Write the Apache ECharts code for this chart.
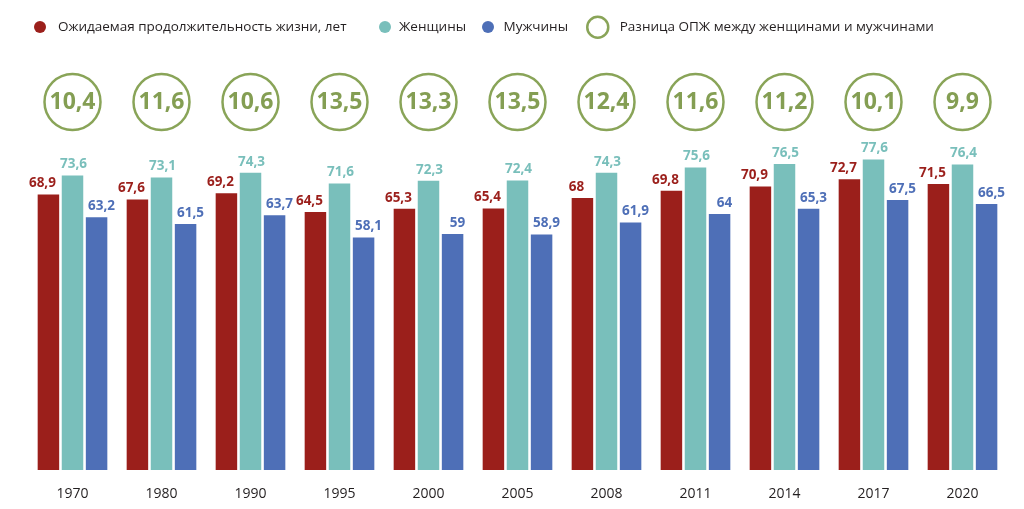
<!DOCTYPE html>
<html>
<head>
<meta charset="utf-8">
<script src="https://cdn.jsdelivr.net/npm/echarts@6/dist/echarts.min.js"></script>
<style>
  html, body { margin: 0; padding: 0; background: #fff; }
  #chart { width: 1024px; height: 509px; }
</style>
</head>
<body>
<div id="chart"></div>
<script>
// данные
const years = ['1970', '1980', '1990', '1995', '2000', '2005', '2008', '2011', '2014', '2017', '2020'];
const total = [68.9, 67.6, 69.2, 64.5, 65.3, 65.4, 68, 69.8, 70.9, 72.7, 71.5];
const women = [73.6, 73.1, 74.3, 71.6, 72.3, 72.4, 74.3, 75.6, 76.5, 77.6, 76.4];
const men = [63.2, 61.5, 63.7, 58.1, 59, 58.9, 61.9, 64, 65.3, 67.5, 66.5];
const gap = [10.4, 11.6, 10.6, 13.5, 13.3, 13.5, 12.4, 11.6, 11.2, 10.1, 9.9];

const names = [
    'Ожидаемая продолжительность жизни, лет',
    'Женщины',
    'Мужчины',
    'Разница ОПЖ между женщинами и мужчинами'
];

const RED = '#9b1f1b';
const TEAL = '#79bfbb';
const BLUE = '#4e6fb7';
const GREEN = '#6c8d2e';
const FONT = '"Open Sans", "Noto Sans", sans-serif';

// уровень, на котором рисуются кружки с разницей
const CIRCLE_LEVEL = 92;

const fmt = v => String(v).replace('.', ',');

function barSeries(name, data, color, dx) {
    return {
        name: name,
        type: 'bar',
        data: data,
        barWidth: 21.5,
        barGap: '12%',
        itemStyle: {color: color},
        label: {
            show: true,
            position: 'top',
            distance: 4,
            offset: [dx, 0],
            color: color,
            fontFamily: FONT,
            fontWeight: 'bold',
            fontSize: 13.5,
            formatter: p => fmt(p.value)
        }
    };
}

function legendFor(name, left, w, h, style) {
    return {
        data: [name],
        left: left,
        top: 21 - h / 2,
        icon: 'circle',
        itemWidth: w,
        itemHeight: h,
        selectedMode: false,
        itemStyle: style,
        textStyle: {color: '#231f20', fontFamily: FONT, fontSize: 13.5}
    };
}

const chart = echarts.init(document.getElementById('chart'));
chart.setOption({
    animation: false,
    legend: [
        legendFor(names[0], 29, 26, 12, {color: RED}),
        legendFor(names[1], 374, 18, 12, {color: TEAL}),
        legendFor(names[2], 477, 21, 12, {color: BLUE}),
        legendFor(names[3], 581, 34, 21, {color: '#fff', borderColor: GREEN, borderWidth: 2.5})
    ],
    grid: {left: 28, right: 17, top: 70, bottom: 39},
    xAxis: {
        type: 'category',
        data: years,
        axisLine: {show: false},
        axisTick: {show: false},
        axisLabel: {margin: 17, color: '#231f20', fontFamily: FONT, fontSize: 14}
    },
    yAxis: {
        type: 'value',
        min: 0,
        max: 100,
        show: false,
        splitLine: {show: false}
    },
    series: [
        barSeries(names[0], total, RED, -6),
        barSeries(names[1], women, TEAL, 1),
        barSeries(names[2], men, BLUE, 5),
        {
            name: names[3],
            type: 'scatter',
            data: gap.map(g => ({value: CIRCLE_LEVEL, gap: g})),
            symbol: 'circle',
            symbolSize: 56,
            itemStyle: {color: '#fff', borderColor: GREEN, borderWidth: 2.5},
            label: {
                show: true,
                position: 'inside',
                color: '#658628',
                fontFamily: FONT,
                fontWeight: 'bold',
                fontSize: 23,
                formatter: p => fmt(gap[p.dataIndex])
            }
        }
    ]
});
</script>
</body>
</html>
